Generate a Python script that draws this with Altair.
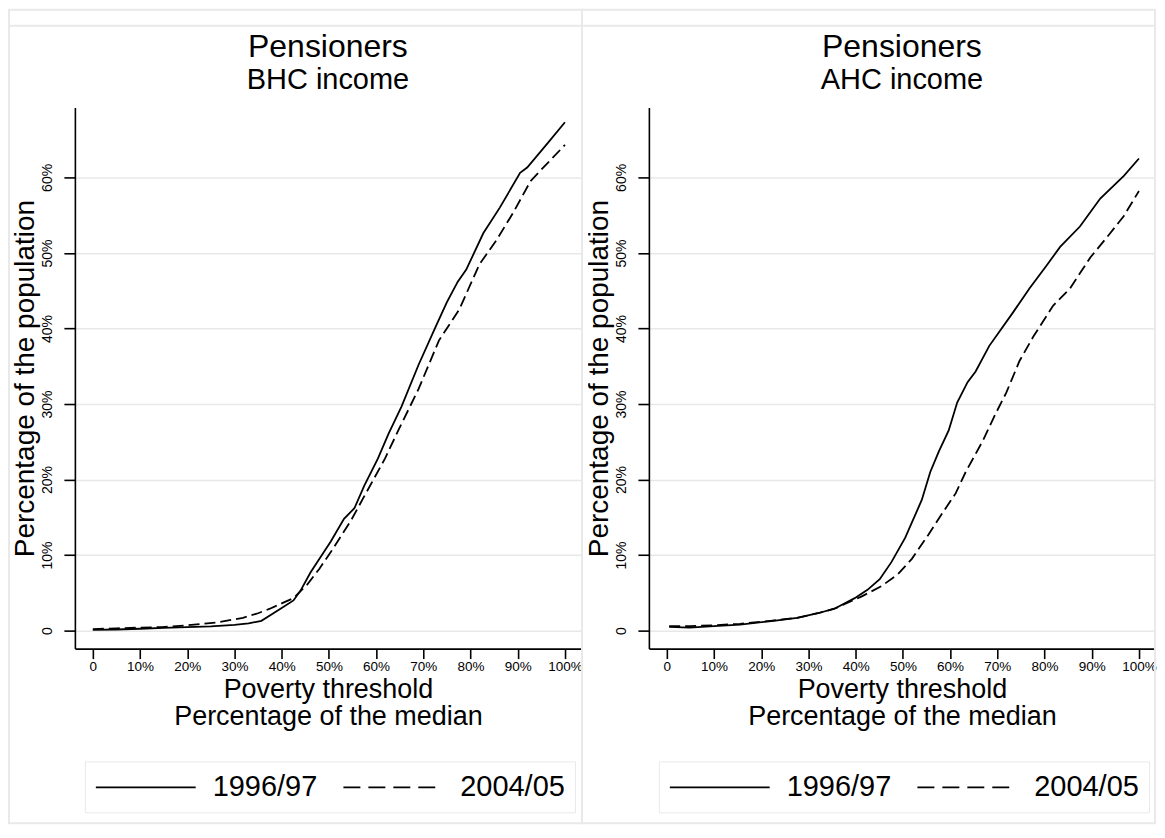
import altair as alt
import pandas as pd

YEARS = ["1996/97", "2004/05"]

# BHC income, pensioners
bhc_x_9697 = [0, 5, 10, 15, 20, 25, 30, 33, 35.7, 38, 40, 42.5, 44, 46.1, 48, 50.4, 53.2, 55.4, 57.5,
              60.4, 62.6, 65.4, 69.0, 72.6, 75, 77.3, 79.1, 82.7, 86.2, 90.5, 92.0, 96.3, 100]
bhc_y_9697 = [0.1, 0.15, 0.25, 0.35, 0.45, 0.55, 0.75, 0.95, 1.3, 2.2, 3.0, 4.0, 5.3, 7.7, 9.5, 11.8, 14.8,
              16.2, 19.2, 22.8, 26.0, 29.7, 35.2, 40.2, 43.5, 46.2, 47.8, 52.6, 56.0, 60.6, 61.3, 64.5, 67.3]
bhc_x_0405 = [0, 5, 10, 14.6, 20, 26, 31.8, 35, 37.5, 40, 42.5, 45.4, 48, 50.4, 54.7, 57.5, 61.9, 64.7,
              69.0, 73.3, 77.6, 81.9, 85.5, 89.1, 92.7, 94.8, 100]
bhc_y_0405 = [0.2, 0.3, 0.4, 0.46, 0.7, 1.05, 1.7, 2.3, 2.9, 3.6, 4.3, 6.1, 8.2, 10.4, 14.6, 17.8, 22.8,
              26.5, 32.0, 38.4, 42.5, 48.5, 51.7, 55.4, 59.5, 60.9, 64.3]

# AHC income, pensioners
ahc_x_9697 = [0.5, 4.8, 10, 15.5, 22.6, 27.6, 32, 35.5, 39.8, 42.5, 45.1, 47.6, 50.5, 54.0, 55.8, 57.6,
              59.7, 61.5, 63.7, 65.4, 68.3, 73.3, 76.8, 80.4, 83.3, 87.5, 91.8, 96.8, 100]
ahc_y_9697 = [0.5, 0.4, 0.6, 0.8, 1.3, 1.7, 2.3, 2.9, 4.3, 5.4, 6.8, 9.1, 12.3, 17.3, 21.0, 23.7, 26.5,
              30.2, 32.9, 34.3, 37.7, 42.1, 45.3, 48.3, 50.8, 53.5, 57.2, 60.2, 62.5]
ahc_x_0405 = [0.5, 5, 10, 15.5, 22, 27.6, 32, 35.5, 41.2, 45.5, 49.0, 51.9, 55.4, 58.3, 61.2, 63.3, 66.9,
              69.7, 71.9, 74.7, 77.6, 81.8, 85.4, 89.7, 93.9, 96.8, 100]
ahc_y_0405 = [0.6, 0.6, 0.7, 0.9, 1.3, 1.7, 2.3, 2.9, 4.5, 5.9, 7.5, 9.5, 12.7, 15.5, 18.2, 21.0, 25.1,
              28.8, 31.5, 35.7, 38.9, 43.0, 45.3, 49.4, 52.6, 54.9, 58.2]

x_ticks = [0, 10, 20, 30, 40, 50, 60, 70, 80, 90, 100]
y_ticks = [0, 10, 20, 30, 40, 50, 60]

TITLE = "Pensioners"
SUBTITLES = ["BHC income", "AHC income"]
X_TITLE = ["Poverty threshold", "Percentage of the median"]
Y_TITLE = "Percentage of the population"

FONT = "Liberation Sans"
W, H = 507, 542
X_DOM = [-3.8, 103.4]
Y_DOM = [-2.38, 69.25]
FRAME = "#e9e9e9"
GRID = "#e8e8e8"
PCT = "datum.value == 0 ? '0' : datum.value + '%'"
# legend key: a 100px line drawn with a custom path (unit = sqrt(size)/2 = 15px)
KEY_PATH = "M-1,0L5.667,0"


def panel(subtitle, x96, y96, x04, y04, fx0, fx1, cover):
    d96 = pd.DataFrame({"x": x96, "y": y96, "year": YEARS[0]})
    d04 = pd.DataFrame({"x": x04, "y": y04, "year": YEARS[1]})
    dleg = pd.DataFrame({"x": [x96[0], x04[0]], "y": [y96[0], y04[0]], "year": YEARS})
    one = pd.DataFrame({"k": [0]})

    xenc = alt.X("x:Q", scale=alt.Scale(domain=X_DOM, nice=False, zero=False),
                 axis=alt.Axis(values=x_ticks, labelExpr=PCT, title=X_TITLE, grid=False,
                               tickSize=10, labelPadding=1, labelFontSize=13.5,
                               titleFontSize=27, titleFontWeight="normal", titleLineHeight=28,
                               titlePadding=3))
    yenc = alt.Y("y:Q", scale=alt.Scale(domain=Y_DOM, nice=False, zero=False),
                 axis=alt.Axis(values=y_ticks, labelExpr=PCT, title=Y_TITLE, grid=True,
                               tickSize=11, labelAngle=270, labelAlign="center",
                               labelBaseline="bottom", labelPadding=9, labelFontSize=14,
                               titleFontSize=28, titleFontWeight="normal", titlePadding=1))

    layers = []
    if cover:
        layers.append(alt.Chart(one).mark_rect(fill="white").encode(
            x=alt.value(fx0), x2=alt.value(fx0 + 6), y=alt.value(-82), y2=alt.value(717)))
    layers.append(alt.Chart(one).mark_rect(filled=False, stroke=FRAME, strokeWidth=2).encode(
        x=alt.value(fx0), x2=alt.value(fx1), y=alt.value(-98), y2=alt.value(717)))
    layers.append(alt.Chart(one).mark_rule(stroke=FRAME, strokeWidth=2).encode(
        x=alt.value(fx0), x2=alt.value(fx1), y=alt.value(-82)))
    layers.append(alt.Chart(one).mark_text(text=TITLE, font=FONT, fontSize=32, color="black",
                                           align="center", baseline="alphabetic").encode(
        x=alt.value(W / 2), y=alt.value(-51)))
    layers.append(alt.Chart(one).mark_text(text=subtitle, font=FONT, fontSize=29, color="black",
                                           align="center", baseline="alphabetic").encode(
        x=alt.value(W / 2), y=alt.value(-19)))
    layers.append(alt.Chart(d96).mark_line(color="black", strokeWidth=1.8).encode(x=xenc, y=yenc))
    layers.append(alt.Chart(d04).mark_line(color="black", strokeWidth=1.8, strokeDash=[11, 5]).encode(
        x=xenc, y=yenc))
    layers.append(alt.Chart(dleg).mark_line(color="black", strokeWidth=1.8).encode(
        x=xenc, y=yenc,
        strokeDash=alt.StrokeDash("year:N", scale=alt.Scale(domain=YEARS, range=[[1, 0], [17, 8]]),
                                  legend=alt.Legend(title=None, orient="none", legendX=10, legendY=655,
                                                    direction="horizontal", symbolType=KEY_PATH,
                                                    symbolSize=900, symbolStrokeWidth=1.8,
                                                    symbolStrokeColor="black",
                                                    labelFontSize=29, labelFont=FONT, labelColor="black",
                                                    labelOffset=86, columnPadding=22, padding=10,
                                                    strokeColor=FRAME, labelLimit=400))))
    return alt.layer(*layers).properties(width=W, height=H)


left = panel(SUBTITLES[0], bhc_x_9697, bhc_y_9697, bhc_x_0405, bhc_y_0405, -66, 508, False)
right = panel(SUBTITLES[1], ahc_x_9697, ahc_y_9697, ahc_x_0405, ahc_y_0405, -67, 507, True)

chart = alt.hconcat(left, right, spacing=68, bounds="flush", padding=0, background="white").resolve_scale(
    strokeDash="independent"
).resolve_legend(
    strokeDash="independent"
).configure_view(
    stroke=None
).configure_axis(
    labelFont=FONT, titleFont=FONT, labelColor="black", titleColor="black",
    titleFontWeight="normal", domainColor="black", domainWidth=1.6, tickColor="black",
    tickWidth=1.6, gridColor=GRID, gridWidth=1.5
)

chart.save("out.html", embed_options={"renderer": "svg", "actions": False})
